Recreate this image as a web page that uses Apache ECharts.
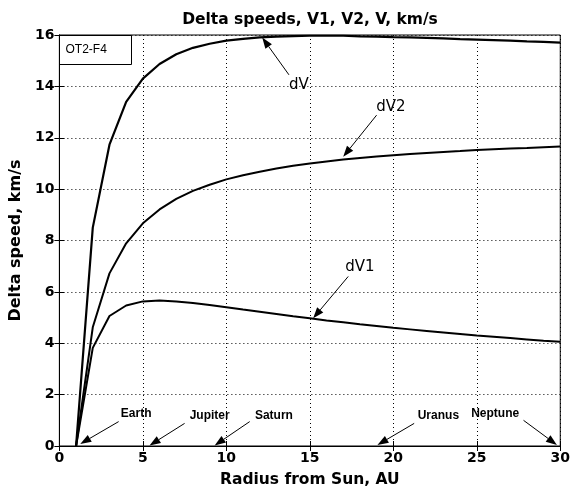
<!DOCTYPE html>
<html>
<head>
<meta charset="utf-8">
<script src="https://cdn.jsdelivr.net/npm/echarts@6/dist/echarts.min.js"></script>
<style>
  html, body { margin: 0; padding: 0; background: #fff; }
  #chart { width: 573px; height: 493px; }
</style>
</head>
<body>
<div id="chart"></div>
<script>
// radius from Sun, AU (sampled at whole AU)
const radius = [1, 2, 3, 4, 5, 6, 7, 8, 9, 10, 11, 12, 13, 14, 15, 16, 17, 18, 19, 20, 21, 22, 23, 24, 25, 26, 27, 28, 29, 30];
// delta speeds, km/s
const dV = [0, 8.5, 11.73, 13.4, 14.3, 14.87, 15.25, 15.5, 15.66, 15.78, 15.85, 15.91, 15.94, 15.96, 15.97, 15.97, 15.97, 15.95, 15.94, 15.92, 15.91, 15.89, 15.87, 15.84, 15.82, 15.8, 15.78, 15.75, 15.73, 15.7];
const dV2 = [0, 4.62, 6.72, 7.89, 8.67, 9.21, 9.62, 9.93, 10.17, 10.38, 10.54, 10.68, 10.8, 10.91, 11.0, 11.08, 11.15, 11.21, 11.27, 11.32, 11.37, 11.41, 11.45, 11.48, 11.52, 11.55, 11.58, 11.6, 11.63, 11.66];
const dV1 = [0, 3.82, 5.06, 5.47, 5.63, 5.66, 5.63, 5.57, 5.49, 5.4, 5.31, 5.23, 5.14, 5.05, 4.97, 4.89, 4.82, 4.74, 4.67, 4.6, 4.54, 4.48, 4.42, 4.36, 4.3, 4.25, 4.2, 4.15, 4.1, 4.06];

const xTicks = [0, 5, 10, 15, 20, 25, 30];
const yTicks = [0, 2, 4, 6, 8, 10, 12, 14, 16];

// annotations: text, text x/y, arrow tail x/y, arrow tip x/y (data units)
const curveNotes = ['dV', 'dV2', 'dV1'];
const curveTextX = [14.35, 19.85, 18.0];
const curveTextY = [14.05, 13.2, 6.98];
const curveTail = [[13.75, 14.45], [19.0, 12.88], [17.3, 6.6]];
const curveTip = [[12.15, 15.9], [17.0, 11.26], [15.2, 4.97]];

const planets = ['Earth', 'Jupiter', 'Saturn', 'Uranus', 'Neptune'];
const planetTextX = [4.6, 9.0, 12.85, 22.7, 26.1];
const planetTextY = [1.27, 1.18, 1.18, 1.18, 1.27];
const planetTail = [[3.55, 0.95], [7.5, 0.88], [11.4, 0.95], [21.25, 0.88], [27.8, 1.0]];
const planetTip = [[1.25, 0.08], [5.4, 0.02], [9.3, 0.02], [19.05, 0.04], [29.8, 0.04]];

const chart = echarts.init(document.getElementById('chart'));

function pairs(arrX, arrY) {
  return arrX.map((x, i) => [x, arrY[i]]);
}

function noteData(names, tx, ty, tails, tips) {
  return names.map((n, i) => ({
    name: n,
    value: [tails[i][0], tails[i][1], tips[i][0], tips[i][1], tx[i], ty[i]]
  }));
}

const baseFont = 'DejaVu Sans, Liberation Sans, sans-serif';

// draws an arrow with a filled head plus its text
function arrowRenderer(textStyle) {
  return function (params, api) {
    const p0 = api.coord([api.value(0), api.value(1)]);
    const p1 = api.coord([api.value(2), api.value(3)]);
    const pt = api.coord([api.value(4), api.value(5)]);
    const dx = p1[0] - p0[0];
    const dy = p1[1] - p0[1];
    const len = Math.sqrt(dx * dx + dy * dy);
    const ux = dx / len, uy = dy / len;
    const headLen = 11, headHalf = 4;
    const bx = p1[0] - ux * headLen, by = p1[1] - uy * headLen;
    return {
      type: 'group',
      children: [{
        type: 'line',
        shape: { x1: p0[0], y1: p0[1], x2: bx, y2: by },
        style: { stroke: '#000', lineWidth: 1 }
      }, {
        type: 'polygon',
        shape: { points: [p1, [bx - uy * headHalf, by + ux * headHalf], [bx + uy * headHalf, by - ux * headHalf]] },
        style: { fill: '#000' }
      }, {
        type: 'text',
        x: pt[0],
        y: pt[1],
        style: Object.assign({ text: textStyle.names[params.dataIndex], align: 'center', verticalAlign: 'middle', fill: '#000' }, textStyle.font)
      }]
    };
  };
}

const option = {
  animation: false,
  backgroundColor: '#fff',
  title: {
    text: 'Delta speeds, V1, V2, V, km/s',
    left: 305,
    top: 7,
    textAlign: 'center',
    textStyle: { fontFamily: baseFont, fontSize: 15.5, fontWeight: 'bold', color: '#000' }
  },
  grid: {
    left: 58,
    right: 9,
    top: 35,
    bottom: 47,
    show: true,
    borderColor: '#000',
    borderWidth: 1,
    backgroundColor: '#fff'
  },
  xAxis: [{
    type: 'value',
    min: 0,
    max: 30,
    interval: 5,
    name: 'Radius from Sun, AU',
    nameLocation: 'middle',
    nameGap: 26,
    nameTextStyle: { fontFamily: baseFont, fontSize: 15.5, fontWeight: 'bold', color: '#000' },
    axisLine: { lineStyle: { color: '#000' } },
    axisTick: { inside: true, length: 5, lineStyle: { color: '#000' } },
    axisLabel: { fontFamily: baseFont, fontSize: 14, fontWeight: 'bold', color: '#000', margin: 5,
      formatter: v => xTicks.includes(v) ? String(v) : '' },
    splitLine: { show: true, lineStyle: { color: '#000', type: [1, 3], width: 1 } }
  }, {
    type: 'value',
    position: 'top',
    min: 0,
    max: 30,
    interval: 5,
    axisLine: { show: true, lineStyle: { color: '#000' } },
    axisTick: { inside: true, length: 5, lineStyle: { color: '#000' } },
    axisLabel: { show: false },
    splitLine: { show: false }
  }],
  yAxis: [{
    type: 'value',
    min: 0,
    max: 16,
    interval: 2,
    name: 'Delta speed, km/s',
    nameLocation: 'middle',
    nameGap: 31,
    nameTextStyle: { fontFamily: baseFont, fontSize: 16, fontWeight: 'bold', color: '#000' },
    axisLine: { show: true, lineStyle: { color: '#000' } },
    axisTick: { inside: true, length: 5, lineStyle: { color: '#000' } },
    axisLabel: { fontFamily: baseFont, fontSize: 14, fontWeight: 'bold', color: '#000', margin: 5,
      formatter: v => yTicks.includes(v) ? String(v) : '' },
    splitLine: { show: true, lineStyle: { color: '#000', type: [1, 3], width: 1 } }
  }, {
    type: 'value',
    position: 'right',
    min: 0,
    max: 16,
    interval: 2,
    axisLine: { show: true, lineStyle: { color: '#000' } },
    axisTick: { inside: true, length: 5, lineStyle: { color: '#000' } },
    axisLabel: { show: false },
    splitLine: { show: false }
  }],
  graphic: [{
    type: 'group',
    left: 59,
    top: 35,
    z: 100,
    children: [{
      type: 'rect',
      shape: { x: 0, y: 0, width: 72, height: 29 },
      style: { fill: '#fff', stroke: '#000', lineWidth: 1 }
    }, {
      type: 'text',
      x: 6,
      y: 8,
      style: { text: 'OT2-F4', fontFamily: 'Liberation Sans, sans-serif', fontSize: 12, fill: '#000' }
    }]
  }],
  series: [{
    name: 'dV',
    type: 'line',
    data: pairs(radius, dV),
    showSymbol: false,
    lineStyle: { color: '#000', width: 2.2 },
    z: 3
  }, {
    name: 'dV2',
    type: 'line',
    data: pairs(radius, dV2),
    showSymbol: false,
    lineStyle: { color: '#000', width: 2 },
    z: 3
  }, {
    name: 'dV1',
    type: 'line',
    data: pairs(radius, dV1),
    showSymbol: false,
    lineStyle: { color: '#000', width: 2 },
    z: 3
  }, {
    name: 'curve notes',
    type: 'custom',
    silent: true,
    data: noteData(curveNotes, curveTextX, curveTextY, curveTail, curveTip),
    renderItem: arrowRenderer({
      names: curveNotes,
      font: { fontFamily: baseFont, fontSize: 15 }
    }),
    z: 5
  }, {
    name: 'planet notes',
    type: 'custom',
    silent: true,
    data: noteData(planets, planetTextX, planetTextY, planetTail, planetTip),
    renderItem: arrowRenderer({
      names: planets,
      font: { fontFamily: 'Liberation Sans Narrow, Arial Narrow, Liberation Sans, sans-serif', fontSize: 12, fontWeight: 'bold' }
    }),
    z: 5
  }]
};

chart.setOption(option);
</script>
</body>
</html>
